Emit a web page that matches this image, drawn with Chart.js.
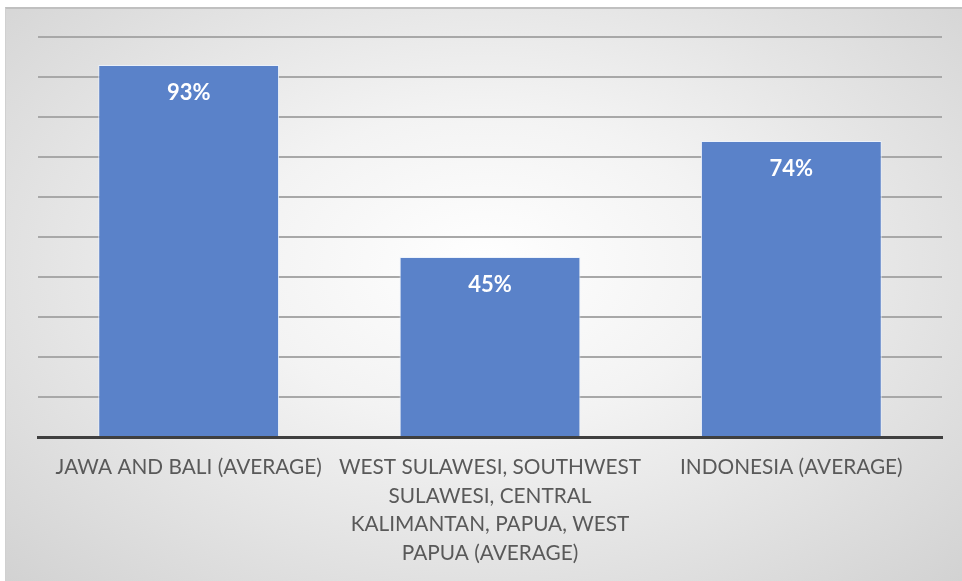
<!DOCTYPE html>
<html>
<head>
<meta charset="utf-8">
<script src="https://cdn.jsdelivr.net/npm/chart.js@4"></script>
<style>
  html, body { margin: 0; padding: 0; background: #ffffff; width: 962px; height: 581px; overflow: hidden; }
  #wrap {
    position: absolute; left: 5px; top: 7px; width: 957px; height: 574px;
    background: radial-gradient(ellipse at 50% 45%, #ffffff 0%, #f3f3f3 35%, #d2d2d2 100%);
    border-top: 2px solid #c0c0c0; border-left: 1px solid #d0d0d0; box-sizing: border-box;
  }
  canvas { position: absolute; left: 0; top: 0; }
</style>
</head>
<body>
<div id="wrap"><canvas id="c" width="956" height="572"></canvas></div>
<script>
const categories = [
  ["JAWA AND BALI (AVERAGE)"],
  ["WEST SULAWESI, SOUTHWEST", "SULAWESI, CENTRAL", "KALIMANTAN, PAPUA, WEST", "PAPUA (AVERAGE)"],
  ["INDONESIA (AVERAGE)"]
];
const values = [93, 45, 74];
const valueLabels = ["93%", "45%", "74%"];

const labelPlugin = {
  id: 'barLabels',
  afterDatasetsDraw(chart) {
    const ctx = chart.ctx;
    const meta = chart.getDatasetMeta(0);
    ctx.save();
    ctx.fillStyle = '#ffffff';
    ctx.font = 'bold 22px Lato, "Open Sans", sans-serif';
    ctx.textAlign = 'center';
    ctx.textBaseline = 'middle';
    meta.data.forEach((bar, i) => {
      ctx.fillText(valueLabels[i], bar.x, bar.y + 28);
    });
    ctx.restore();
  }
};

new Chart(document.getElementById('c'), {
  type: 'bar',
  data: {
    labels: categories,
    datasets: [{
      data: values,
      backgroundColor: '#5a82c9',
      borderColor: 'rgba(235,242,252,0.9)',
      borderWidth: 1,
      borderSkipped: 'bottom',
      categoryPercentage: 1.0,
      barPercentage: 0.6
    }]
  },
  options: {
    responsive: false,
    animation: false,
    events: [],
    layout: { padding: { left: 32, right: 20, top: 28, bottom: 0 } },
    plugins: { legend: { display: false }, tooltip: { enabled: false } },
    scales: {
      x: {
        grid: { display: false, drawTicks: false },
        border: { display: true, color: '#3f3f3f', width: 3 },
        ticks: {
          color: '#595959',
          font: { family: 'Lato, "Open Sans", sans-serif', size: 20.8, lineHeight: 1.38 },
          padding: 16,
          maxRotation: 0,
          minRotation: 0,
          autoSkip: false
        },
        afterFit(s) { s.height = 144; }
      },
      y: {
        min: 0, max: 100,
        ticks: { display: false, stepSize: 10 },
        grid: { color: '#a8a8a8', lineWidth: 2, drawTicks: false },
        border: { display: false },
        afterFit(s) { s.width = 0; }
      }
    }
  },
  plugins: [labelPlugin]
});
</script>
</body>
</html>
